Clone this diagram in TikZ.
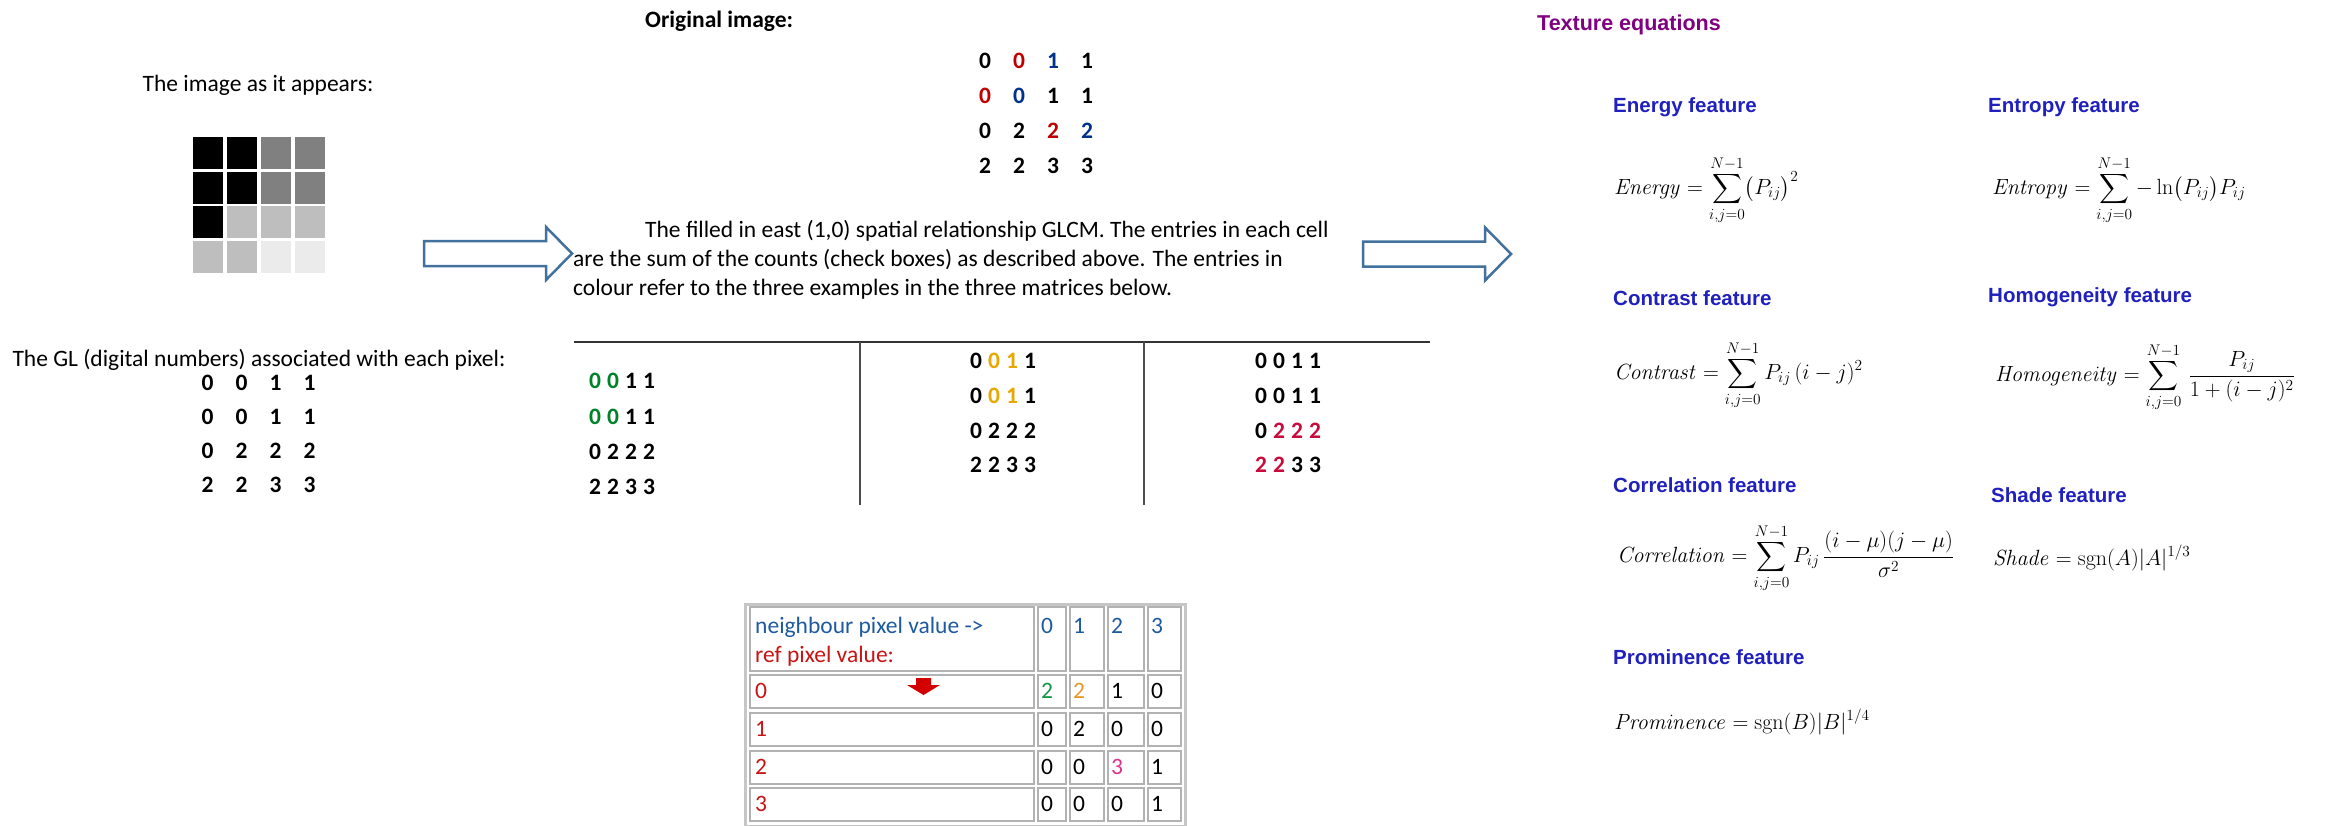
\RequirePackage{fix-cm}
\documentclass[tikz,border=0pt]{standalone}
\usepackage{amsmath}
\usepackage[no-math]{fontspec}
\setmainfont{Carlito}
\newfontfamily\arialfont{Liberation Sans}
\definecolor{arrowblue}{RGB}{65,113,156}
\definecolor{cred}{RGB}{192,0,0}
\definecolor{cblue}{RGB}{0,50,140}
\definecolor{mgreen}{RGB}{0,130,40}
\definecolor{morange}{RGB}{232,168,0}
\definecolor{mcrimson}{RGB}{200,10,60}
\definecolor{tblue}{RGB}{30,90,160}
\definecolor{tred}{RGB}{200,20,20}
\definecolor{tgreen}{RGB}{20,150,70}
\definecolor{torange}{RGB}{232,150,40}
\definecolor{tmag}{RGB}{220,50,140}
\definecolor{arrred}{RGB}{210,0,0}
\definecolor{headpurple}{RGB}{128,0,128}
\definecolor{headblue}{RGB}{32,32,190}
\definecolor{gridgray}{RGB}{128,128,128}
\definecolor{gridlight}{RGB}{190,190,190}
\definecolor{gridpale}{RGB}{235,235,235}
\newcommand{\Wd}[2][black]{\makebox[34pt]{\textcolor{#1}{#2}}}
\newcommand{\Nd}[2][black]{\makebox[18pt]{\textcolor{#1}{#2}}}
\begin{document}
\begin{tikzpicture}[x=1pt,y=-1pt,
  txt/.style={inner sep=0, text height=16, text depth=5, font=\fontsize{23.5}{28}\selectfont},
  txtb/.style={txt, font=\fontsize{23.5}{28}\selectfont\bfseries},
  tcell/.style={txt, anchor=west},
  head/.style={inner sep=0, anchor=west, text=headblue, font=\arialfont\fontsize{20.5}{24}\selectfont\bfseries},
  eqn/.style={inner sep=0, anchor=west, font=\fontsize{22}{26}\selectfont},
  cellbox/.style={draw=gray!60, line width=1.5},
  blockarrow/.pic={
    \draw[arrowblue, line width=2.5, line join=miter, fill=white]
      (0,-12.5) -- (122,-12.5) -- (122,-26.5) -- (148,0) -- (122,26.5) -- (122,12.5) -- (0,12.5) -- cycle;
  }]
\useasboundingbox (0,0) rectangle (2336,825);
\fill[white] (0,0) rectangle (2336,825);

% ---------------- left panel ----------------
\node[txt] (appears) at (258,86) {The image as it appears:};
\foreach \c [count=\i from 0] in {black,black,gridgray,gridgray,black,black,gridgray,gridgray,black,gridlight,gridlight,gridlight,gridlight,gridlight,gridpale,gridpale}{
  \pgfmathtruncatemacro\cx{mod(\i,4)}
  \pgfmathtruncatemacro\ry{div(\i,4)}
  \fill[\c] (193+34*\cx, 137+34.5*\ry) rectangle ++(30,32);
}
\node[txt] (gltitle) at (259,361) {The GL (digital numbers) associated with each pixel:};
\node[txtb] (gl1) at (258.5,385) {\Wd{0}\Wd{0}\Wd{1}\Wd{1}};
\node[txtb] (gl2) at (258.5,419) {\Wd{0}\Wd{0}\Wd{1}\Wd{1}};
\node[txtb] (gl3) at (258.5,453) {\Wd{0}\Wd{2}\Wd{2}\Wd{2}};
\node[txtb] (gl4) at (258.5,487) {\Wd{2}\Wd{2}\Wd{3}\Wd{3}};

\pic at (424,253.5) {blockarrow};

% ---------------- middle panel ----------------
\node[txtb, anchor=west] (origtitle) at (645,22) {Original image:};
\node[txtb] (om1) at (1036,63) {\Wd{0}\Wd[cred]{0}\Wd[cblue]{1}\Wd{1}};
\node[txtb] (om2) at (1036,98) {\Wd[cred]{0}\Wd[cblue]{0}\Wd{1}\Wd{1}};
\node[txtb] (om3) at (1036,133) {\Wd{0}\Wd{2}\Wd[cred]{2}\Wd[cblue]{2}};
\node[txtb] (om4) at (1036,168) {\Wd{2}\Wd{2}\Wd{3}\Wd{3}};

\node[txt, anchor=west] (par1) at (645,232) {The filled in east (1,0) spatial relationship GLCM. The entries in each cell};
\node[txt, anchor=west] (par2) at (573,261) {are the sum of the counts (check boxes) as described above. The entries in};
\node[txt, anchor=west] (par3) at (573,290) {colour refer to the three examples in the three matrices below.};

\pic at (1363,254) {blockarrow};

% rules of the three-matrix table
\draw[line width=1.3, black!80] (574,342) -- (1430,342);
\draw[line width=1.1, black!70] (860,342) -- (860,505);
\draw[line width=1.1, black!70] (1144,342) -- (1144,505);

\node[txtb] (ma1) at (622,383) {\Nd[mgreen]{0}\Nd[mgreen]{0}\Nd{1}\Nd{1}};
\node[txtb] (ma2) at (622,419) {\Nd[mgreen]{0}\Nd[mgreen]{0}\Nd{1}\Nd{1}};
\node[txtb] (ma3) at (622,454) {\Nd{0}\Nd{2}\Nd{2}\Nd{2}};
\node[txtb] (ma4) at (622,489) {\Nd{2}\Nd{2}\Nd{3}\Nd{3}};

\node[txtb] (mb1) at (1003,363) {\Nd{0}\Nd[morange]{0}\Nd[morange]{1}\Nd{1}};
\node[txtb] (mb2) at (1003,398) {\Nd{0}\Nd[morange]{0}\Nd[morange]{1}\Nd{1}};
\node[txtb] (mb3) at (1003,433) {\Nd{0}\Nd{2}\Nd{2}\Nd{2}};
\node[txtb] (mb4) at (1003,467) {\Nd{2}\Nd{2}\Nd{3}\Nd{3}};

\node[txtb] (mc1) at (1288,363) {\Nd{0}\Nd{0}\Nd{1}\Nd{1}};
\node[txtb] (mc2) at (1288,398) {\Nd{0}\Nd{0}\Nd{1}\Nd{1}};
\node[txtb] (mc3) at (1288,433) {\Nd{0}\Nd[mcrimson]{2}\Nd[mcrimson]{2}\Nd[mcrimson]{2}};
\node[txtb] (mc4) at (1288,467) {\Nd[mcrimson]{2}\Nd[mcrimson]{2}\Nd{3}\Nd{3}};

% ---------------- GLCM table ----------------
\draw[gray!45, line width=3] (745,604) rectangle (1185,826);
\foreach \xa/\xb in {750/1034,1038/1066,1070/1104,1108/1144,1148/1181}
  \foreach \ya/\yb in {607/671,675/708,713/746,751/784,788/821}
    \draw[cellbox] (\xa,\ya) rectangle (\xb,\yb);

\node[tcell, text=tblue] (nbr) at (755,628) {neighbour pixel value ->};
\node[tcell, text=tred] (refv) at (755,657) {ref pixel value:};
\node[tcell, text=tblue] (h0) at (1041,628) {0};
\node[tcell, text=tblue] (h1) at (1073,628) {1};
\node[tcell, text=tblue] (h2) at (1111,628) {2};
\node[tcell, text=tblue] (h3) at (1151,628) {3};

\node[tcell, text=tred] (r0) at (755,693) {0};
\node[tcell, text=tgreen] (v00) at (1041,693) {2};
\node[tcell, text=torange] (v01) at (1073,693) {2};
\node[tcell] (v02) at (1111,693) {1};
\node[tcell] (v03) at (1151,693) {0};

\node[tcell, text=tred] (r1) at (755,731) {1};
\node[tcell] (v10) at (1041,731) {0};
\node[tcell] (v11) at (1073,731) {2};
\node[tcell] (v12) at (1111,731) {0};
\node[tcell] (v13) at (1151,731) {0};

\node[tcell, text=tred] (r2) at (755,769) {2};
\node[tcell] (v20) at (1041,769) {0};
\node[tcell] (v21) at (1073,769) {0};
\node[tcell, text=tmag] (v22) at (1111,769) {3};
\node[tcell] (v23) at (1151,769) {1};

\node[tcell, text=tred] (r3) at (755,806) {3};
\node[tcell] (v30) at (1041,806) {0};
\node[tcell] (v31) at (1073,806) {0};
\node[tcell] (v32) at (1111,806) {0};
\node[tcell] (v33) at (1151,806) {1};

\fill[arrred] (916,678) -- (931,678) -- (931,685) -- (940,685) -- (923.5,695) -- (907,685) -- (916,685) -- cycle;

% ---------------- right panel ----------------
\node[inner sep=0, anchor=west, text=headpurple, font=\arialfont\fontsize{21.5}{25}\selectfont\bfseries] (texture) at (1537,25) {Texture equations};

\node[head] (energyh) at (1613,107) {Energy feature};
\node[head] (entropyh) at (1988,107) {Entropy feature};
\node[eqn] (energy) at (1614,190) {$\displaystyle \mathit{Energy} = \sum_{i,j=0}^{N-1}\bigl(P_{ij}\bigr)^{2}$};
\node[eqn] (entropy) at (1992,190) {$\displaystyle \mathit{Entropy} = \sum_{i,j=0}^{N-1}-\ln\bigl(P_{ij}\bigr)P_{ij}$};

\node[head] (contrasth) at (1613,298) {Contrast feature};
\node[head] (homogh) at (1988,297) {Homogeneity feature};
\node[eqn] (contrast) at (1614,375) {$\displaystyle \mathit{Contrast} = \sum_{i,j=0}^{N-1}P_{ij}\,(i-j)^{2}$};
\node[eqn] (homog) at (1995,377) {$\displaystyle \mathit{Homogeneity} = \sum_{i,j=0}^{N-1}\,\frac{P_{ij}}{1+(i-j)^{2}}$};

\node[head] (correlh) at (1613,485) {Correlation feature};
\node[head] (shadeh) at (1991,495) {Shade feature};
\node[eqn] (correl) at (1617,558) {$\displaystyle \mathit{Correlation} = \sum_{i,j=0}^{N-1}P_{ij}\,\frac{(i-\mu)(j-\mu)}{\sigma^{2}}$};
\node[eqn] (shade) at (1993,558) {$\displaystyle \mathit{Shade} = \operatorname{sgn}(A)\lvert A\rvert^{1/3}$};

\node[head] (promh) at (1613,657) {Prominence feature};
\node[eqn] (prom) at (1614,722) {$\displaystyle \mathit{Prominence} = \operatorname{sgn}(B)\lvert B\rvert^{1/4}$};
\end{tikzpicture}
\end{document}
